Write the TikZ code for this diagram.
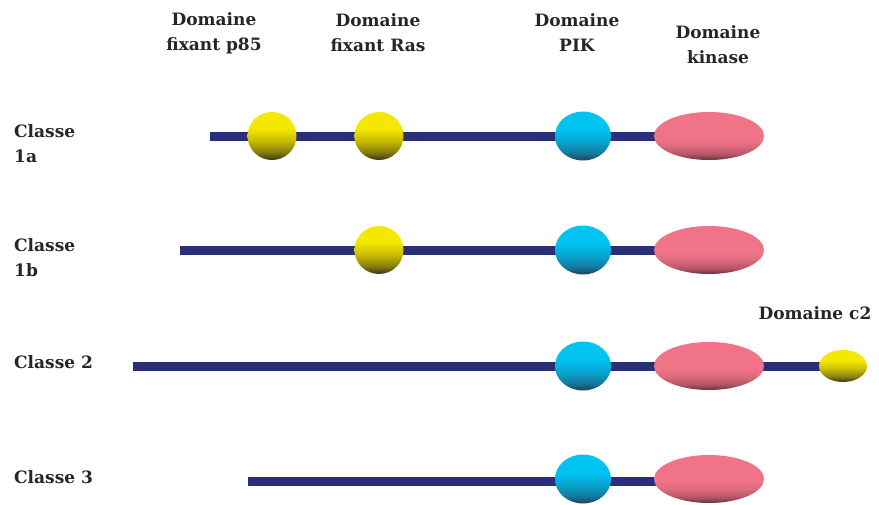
\documentclass[tikz,border=0pt]{standalone}
\usepackage{fontspec}
\setmainfont{DejaVu Serif}
\usetikzlibrary{shapes.geometric, backgrounds}
\definecolor{chainblue}{RGB}{42,48,120}
\definecolor{ytop}{RGB}{245,232,0}
\definecolor{ybot}{RGB}{60,52,25}
\definecolor{ctop}{RGB}{0,195,242}
\definecolor{cbot}{RGB}{35,65,90}
\definecolor{ptop}{RGB}{240,115,135}
\definecolor{pbot}{RGB}{105,50,60}
% bright top, dark rim at the bottom
\pgfdeclareverticalshading{yshade}{100bp}{color(0bp)=(ybot); color(25bp)=(ybot);
  color(33bp)=(ytop!40!ybot); color(45bp)=(ytop!75!ybot); color(58bp)=(ytop); color(100bp)=(ytop)}
\pgfdeclareverticalshading{cshade}{100bp}{color(0bp)=(cbot); color(25bp)=(cbot);
  color(33bp)=(ctop!45!cbot); color(45bp)=(ctop!78!cbot); color(57bp)=(ctop); color(100bp)=(ctop)}
\pgfdeclareverticalshading{pshade}{100bp}{color(0bp)=(pbot); color(25bp)=(pbot);
  color(31bp)=(ptop!55!pbot); color(40bp)=(ptop!88!pbot); color(48bp)=(ptop); color(100bp)=(ptop)}
\tikzset{
  lbl/.style={font=\bfseries\fontsize{17}{25}\selectfont, text=black!85, align=center, inner sep=0pt},
  classlbl/.style={lbl, align=left, anchor=west},
  chain/.style={line width=9pt, chainblue},
  ydom/.style={ellipse, inner sep=0pt, minimum width=49pt, minimum height=48pt, shade, shading=yshade},
  c2dom/.style={ydom, minimum width=48pt, minimum height=32pt},
  pikdom/.style={ellipse, inner sep=0pt, minimum width=56pt, minimum height=49pt, shade, shading=cshade},
  kindom/.style={ellipse, inner sep=0pt, minimum width=110pt, minimum height=48pt, shade, shading=pshade},
}
\begin{document}
\begin{tikzpicture}[x=1pt, y=-1pt]
  \useasboundingbox (0,0) rectangle (879,504);
  % column titles
  \node[lbl] (hp85) at (214,33) {Domaine\\fixant p85};
  \node[lbl] (hras) at (378,33) {Domaine\\fixant Ras};
  \node[lbl] (hpik) at (577,33) {Domaine\\PIK};
  \node[lbl] (hkin) at (718,45) {Domaine\\kinase};
  % class labels
  \node[classlbl] (cl1a) at (14,144) {Classe\\1a};
  \node[classlbl] (cl1b) at (14,258) {Classe\\1b};
  \node[classlbl] (cl2) at (14,362) {Classe 2};
  \node[classlbl] (cl3) at (14,477) {Classe 3};
  % PIK and kinase domains, same in every class
  \foreach \r/\y in {1/136,2/250,3/366,4/479}{
    \node[pikdom] (pik\r) at (583,\y) {};
    \node[kindom] (kin\r) at (709,\y) {};
  }
  % binding domains
  \node[ydom] (p85a) at (272,136) {};
  \node[ydom] (rasa) at (379,136) {};
  \node[ydom] (rasb) at (379,250) {};
  \node[c2dom] (c2) at (843,366) {};
  \node[lbl] (hc2) at (815,313) {Domaine c2};
  % backbones
  \coordinate (s1) at (210,136);
  \coordinate (s2) at (180,250);
  \coordinate (s3) at (133,366);
  \coordinate (s4) at (248,481);
  \begin{scope}[on background layer]
    \draw[chain] (s1) -- (kin1.center);
    \draw[chain] (s2) -- (kin2.center);
    \draw[chain] (s3) -- (c2.center);
    \draw[chain] (s4) -- (s4 -| kin4.center);
  \end{scope}
\end{tikzpicture}
\end{document}
